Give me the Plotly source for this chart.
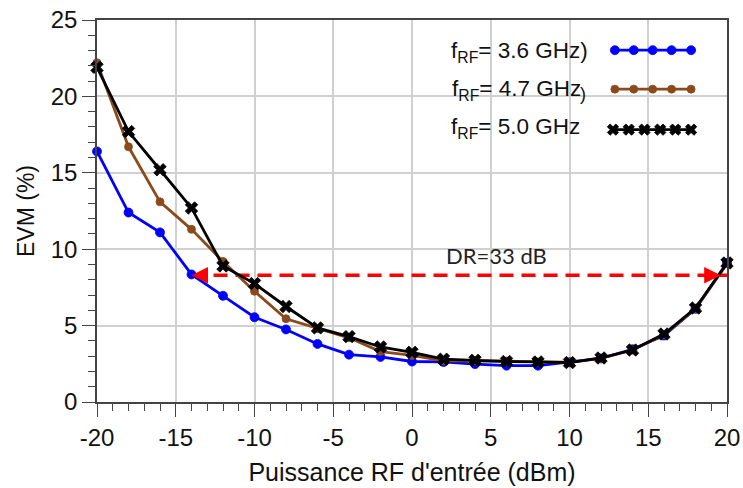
import plotly.graph_objects as go

# ---- data ----
p_in = [-20, -18, -16, -14, -12, -10, -8, -6, -4, -2, 0, 2, 4, 6, 8, 10, 12, 14, 16, 18, 20]
evm_36 = [16.4, 12.4, 11.1, 8.35, 6.95, 5.55, 4.75, 3.8, 3.1, 2.95, 2.65, 2.62, 2.48, 2.38, 2.38, 2.6, 2.85, 3.45, 4.35, 6.1, 9.1]
evm_47 = [22.2, 16.7, 13.1, 11.3, 9.2, 7.25, 5.45, 4.8, 4.2, 3.3, 3.05, 2.7, 2.7, 2.68, 2.62, 2.6, 2.85, 3.4, 4.4, 6.1, 9.05]
evm_50 = [21.9, 17.7, 15.2, 12.7, 8.9, 7.75, 6.25, 4.85, 4.28, 3.6, 3.25, 2.8, 2.73, 2.65, 2.62, 2.58, 2.88, 3.4, 4.45, 6.15, 9.1]
labels = ["f<sub>RF</sub>= 3.6 GHz)", "f<sub>RF</sub>= 4.7 GHz", "f<sub>RF</sub>= 5.0 GHz"]
colors = ["#0000FF", "#8B4A1C", "#000000"]
dr_x = [-14, 20]
dr_y = 8.3
dr_text = "DR=33 dB"
x_ticks = [-20, -15, -10, -5, 0, 5, 10, 15, 20]
x_ticktext = ["-20", "-15", "-10", "-5", "0", "5", "10", "15", "20"]
y_ticks = [0, 5, 10, 15, 20, 25]

FONT = "Liberation Sans, Arial, sans-serif"

fig = go.Figure()

# dynamic range dashed line
fig.add_trace(go.Scatter(x=dr_x, y=[dr_y, dr_y], mode="lines",
                         line=dict(color="#FF0000", width=3.5, dash="14px,8px"),
                         showlegend=False, hoverinfo="skip"))

series = [evm_36, evm_47, evm_50]
symbols = ["circle", "circle", "x"]
sizes = [9, 8, 11]
for ys, c, sym, sz in zip(series, colors, symbols, sizes):
    fig.add_trace(go.Scatter(x=p_in, y=ys, mode="lines+markers",
                             line=dict(color=c, width=2.8),
                             marker=dict(symbol=sym, size=sz, color=c,
                                         line=dict(width=0.8, color=c)),
                             cliponaxis=False, showlegend=False))

# arrow heads
for xv, ax in [(dr_x[0], 14), (dr_x[1] - 0.4, -14)]:
    fig.add_annotation(x=xv, y=dr_y, ax=ax, ay=0, xref="x", yref="y",
                       text="", showarrow=True, arrowhead=2, arrowsize=1.1,
                       arrowwidth=3, arrowcolor="#FF0000")

fig.add_annotation(x=5.37, y=9.62, text=dr_text, showarrow=False,
                   font=dict(family="Lato, sans-serif", size=22, color="#222"))

# manual legend (text left, sample right)
leg_text_y = [0.915, 0.818, 0.716]
leg_line_y = [0.921, 0.819, 0.713]
leg_mx = [[0.822, 0.852, 0.882, 0.912, 0.943],
          [0.822, 0.852, 0.882, 0.912, 0.943],
          [0.819, 0.844, 0.869, 0.894, 0.918, 0.943]]
leg_text_x = [0.558, 0.561, 0.558]
for lab, c, sym, sz, ty, ly, mx, tx in zip(labels, colors, symbols, sizes,
                                           leg_text_y, leg_line_y, leg_mx, leg_text_x):
    fig.add_annotation(x=tx, y=ty, xref="paper", yref="paper", text=lab,
                       showarrow=False, xanchor="left", yanchor="middle",
                       font=dict(family=FONT, size=22.5, color="#111"))
    fig.add_trace(go.Scatter(x=mx, y=[ly] * len(mx), xaxis="x2", yaxis="y2",
                             mode="lines+markers",
                             line=dict(color=c, width=2.8),
                             marker=dict(symbol=sym, size=sz if sym != "x" else 10, color=c,
                                         line=dict(width=0.8, color=c)),
                             showlegend=False, hoverinfo="skip"))
# stray parenthesis in the 4.7 GHz label
fig.add_annotation(x=0.771, y=0.805, xref="paper", yref="paper", text=")",
                   showarrow=False, xanchor="center", yanchor="middle",
                   font=dict(family=FONT, size=18, color="#111"))

axis_common = dict(showline=True, linecolor="#444", linewidth=1.5, mirror=True,
                   showgrid=True, gridcolor="#d0d0d0", gridwidth=1.5,
                   ticks="outside", ticklen=13, tickcolor="#444", tickwidth=1.3,
                   tickfont=dict(family=FONT, size=24, color="#111"),
                   zeroline=False, automargin=False)

fig.update_layout(
    width=743, height=488,
    margin=dict(l=97, r=16, t=20, b=86),
    paper_bgcolor="white", plot_bgcolor="white",
    xaxis=dict(range=[-20, 20], tickvals=x_ticks, ticktext=x_ticktext,
               minor=dict(dtick=1, ticks="outside", ticklen=7, tickcolor="#444", showgrid=False),
               title=dict(text="Puissance RF d'entrée (dBm)", standoff=14,
                          font=dict(family=FONT, size=25, color="#111")),
               **axis_common),
    yaxis=dict(range=[0, 25], tickvals=y_ticks,
               minor=dict(dtick=1, ticks="outside", ticklen=7, tickcolor="#444", showgrid=False),
               title=dict(text="EVM (%)", standoff=10,
                          font=dict(family=FONT, size=23, color="#111")),
               **axis_common),
    xaxis2=dict(range=[0, 1], domain=[0, 1], visible=False, overlaying="x", fixedrange=True),
    yaxis2=dict(range=[0, 1], domain=[0, 1], visible=False, overlaying="y", fixedrange=True),
)

fig.write_html("out.html", config={"displayModeBar": False},
               post_script="document.body.style.margin='0';")
